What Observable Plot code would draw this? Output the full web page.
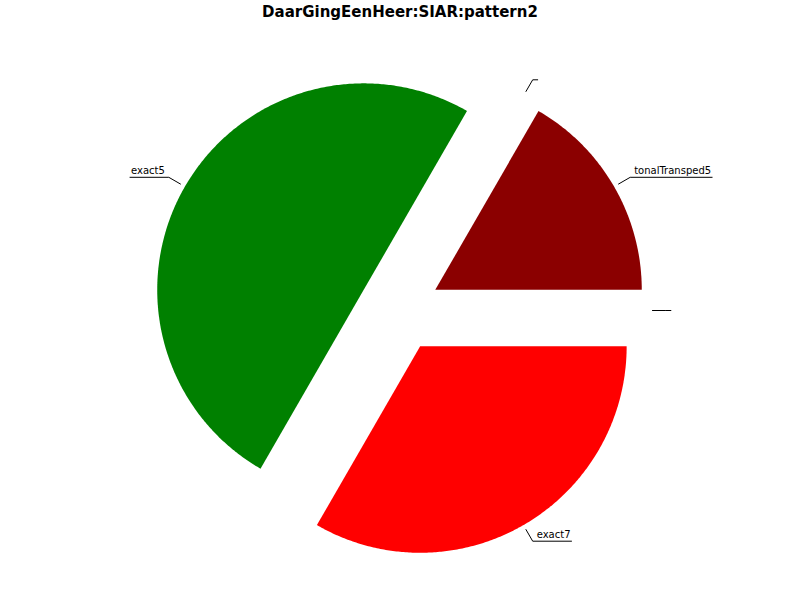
<!DOCTYPE html>
<html>
<head>
<meta charset="utf-8">
<script src="https://cdn.jsdelivr.net/npm/d3@7"></script>
<script src="https://cdn.jsdelivr.net/npm/@observablehq/plot@0.6"></script>
<style>
  html, body { margin: 0; padding: 0; background: #fff; }
  #wrap { position: relative; width: 800px; height: 600px; }
  #title { position: absolute; left: 0; top: 3px; width: 800px; text-align: center;
           font: bold 15px "DejaVu Sans", sans-serif; color: #000; }
  #chart { position: absolute; left: 0; top: 0; }
</style>
</head>
<body>
<div id="wrap">
  <div id="chart"></div>
  <div id="title">DaarGingEenHeer:SIAR:pattern2</div>
</div>
<script>
const labels = ["tonalTransped5", "", "exact5", "exact7", ""];
const values = [1, 0, 3, 2, 0];
const colors = ["#8b0000", "#1f77b4", "#008000", "#ff0000", "#ff7f0e"];
const explode = [0.2, 0.2, 0.2, 0.2, 0.2];

const total = d3.sum(values);
const pxPerUnit = 206.5;
const ctx = document.createElement("canvas").getContext("2d");
ctx.font = "10px 'DejaVu Sans'";

const slices = [];
let acc = 0;
values.forEach((v, i) => {
  const a0 = acc / total * 2 * Math.PI;
  acc += v;
  const a1 = acc / total * 2 * Math.PI;
  const mid = (a0 + a1) / 2;
  const cx = explode[i] * Math.cos(mid), cy = explode[i] * Math.sin(mid);
  slices.push({i, label: labels[i], value: v, color: colors[i], a0, a1, mid, cx, cy});
});

const wedgePts = [];
slices.filter(s => s.value > 0).forEach(s => {
  wedgePts.push({z: s.i, color: s.color, x: s.cx, y: s.cy});
  const n = Math.max(2, Math.ceil((s.a1 - s.a0) / (Math.PI / 360)));
  for (let k = 0; k <= n; k++) {
    const a = s.a0 + (s.a1 - s.a0) * k / n;
    wedgePts.push({z: s.i, color: s.color, x: s.cx + Math.cos(a), y: s.cy + Math.sin(a)});
  }
});

const leaderPts = [];
const textPts = [];
slices.forEach(s => {
  const right = Math.cos(s.mid) >= -1e-9;
  const p1 = {x: s.cx + 1.025 * Math.cos(s.mid), y: s.cy + 1.025 * Math.sin(s.mid)};
  const p2 = {x: s.cx + 1.09 * Math.cos(s.mid), y: s.cy + 1.09 * Math.sin(s.mid)};
  const w = ctx.measureText(s.label).width;
  const len = (w + 5) / pxPerUnit;
  const p3 = {x: p2.x + (right ? len : -len), y: p2.y};
  [p1, p2, p3].forEach(p => leaderPts.push({z: s.i, x: p.x, y: p.y}));
  if (s.label) textPts.push({label: s.label, x: p2.x + (right ? 4 : -4) / pxPerUnit, y: p2.y,
                             anchor: right ? "start" : "end"});
});

const W = 800, H = 600, CX = 399, CY = 310;
const plot = Plot.plot({
  width: W, height: H,
  margin: 0,
  x: {domain: [-CX / pxPerUnit, (W - CX) / pxPerUnit], axis: null},
  y: {domain: [-(H - CY) / pxPerUnit, CY / pxPerUnit], axis: null},
  color: {type: "identity"},
  style: {fontFamily: "DejaVu Sans", background: "#fff"},
  marks: [
    Plot.line(wedgePts, {x: "x", y: "y", z: "z", fill: "color", stroke: null, curve: "linear-closed"}),
    Plot.line(leaderPts, {x: "x", y: "y", z: "z", stroke: "#000", strokeWidth: 1}),
    Plot.text(textPts.filter(d => d.anchor === "start"), {x: "x", y: "y", text: "label", textAnchor: "start",
      lineAnchor: "bottom", dy: -3, fontSize: 10, fill: "#000"}),
    Plot.text(textPts.filter(d => d.anchor === "end"), {x: "x", y: "y", text: "label", textAnchor: "end",
      lineAnchor: "bottom", dy: -3, fontSize: 10, fill: "#000"})
  ]
});
document.getElementById("chart").appendChild(plot);
</script>
</body>
</html>
